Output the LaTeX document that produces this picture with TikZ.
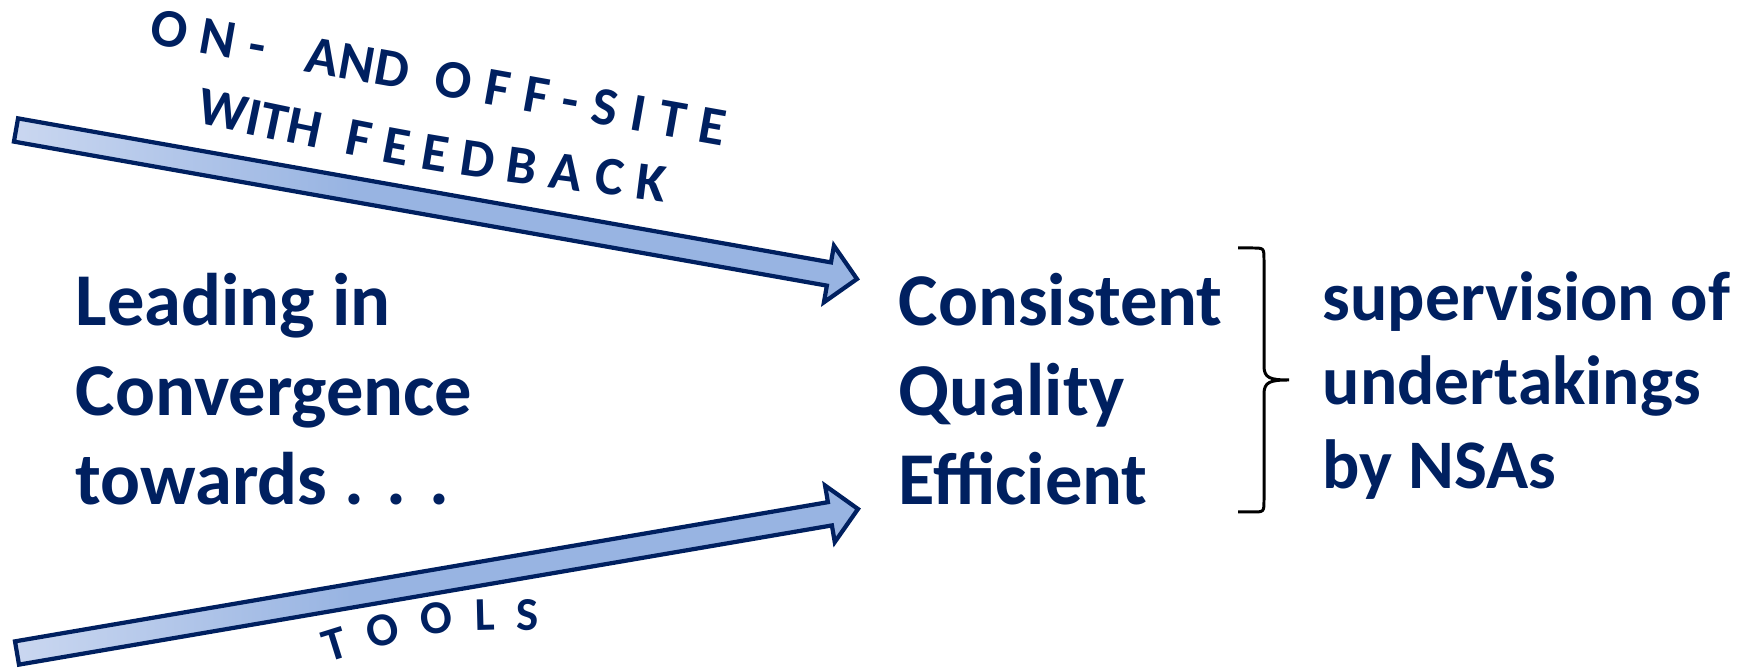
\documentclass[tikz,border=0pt]{standalone}
\usepackage{fontspec}
\setmainfont{Carlito}
\usetikzlibrary{calc,positioning,decorations.text}
\definecolor{navy}{RGB}{0,32,96}
\definecolor{arrlight}{RGB}{202,215,240}
\definecolor{arrmid}{RGB}{152,180,226}
\pgfdeclarehorizontalshading{arrowshade}{100bp}{color(0bp)=(arrlight); color(25bp)=(arrlight); color(45bp)=(arrmid); color(100bp)=(arrmid)}
\newcommand{\wafont}{\fontsize{15.4pt}{18pt}\selectfont\bfseries}
\newcommand{\tlfont}{\fontsize{13.4pt}{16pt}\selectfont\bfseries}
\newcommand{\arrsw}{0.118cm}
\newcommand{\arrhw}{0.287cm}
\newcommand{\arrhl}{0.285cm}
% block arrow from a tail coordinate to a tip coordinate
\newcommand{\bigarrow}[2]{%
  \coordinate (#1 base) at ($(#2)!\arrhl!(#1)$);
  \draw[blockarrow] ($(#1)!\arrsw!90:(#2)$) -- ($(#1 base)!\arrsw!90:(#2)$)
    -- ($(#1 base)!\arrhw!90:(#2)$) -- (#2) -- ($(#1 base)!\arrhw!-90:(#2)$)
    -- ($(#1 base)!\arrsw!-90:(#2)$) -- ($(#1)!\arrsw!-90:(#2)$) -- cycle;}
\tikzset{
    %Define style for the large texts
    bigtext/.style={
           font=\fontsize{21.2pt}{25.6pt}\selectfont\bfseries,
           text=navy,
           align=left,
           inner sep=0pt,
           anchor=base west,
           },
    % Define style for the block arrows
    blockarrow/.style={
           draw=navy,
           line width=1.2pt,
           line join=miter,
           shade,
           shading=arrowshade,
           },
    bracket/.style={
           line width=0.85pt,
           },
    wordart/.style={
           decorate,
           decoration={text along path, text color=navy, text align={fit to path}},
           },
}
\begin{document}
\begin{tikzpicture}
\useasboundingbox (0,0) rectangle (17.54,6.70);
% arrows
\coordinate (fb tail) at (0.16,5.40);
\coordinate (fb tip) at (8.57,3.91);
\coordinate (tl tail) at (0.17,0.17);
\coordinate (tl tip) at (8.58,1.61);
\bigarrow{fb tail}{fb tip}
\bigarrow{tl tail}{tl tip}
% text blocks (anchored at the last line)
\node[bigtext] (lead) at (0.75,1.65) {Leading in\\Convergence\\towards . . .};
\node[bigtext] (cons) at (8.98,1.65) {Consistent\\Quality\\Efficient};
\node[bigtext, font=\fontsize{19.8pt}{23.9pt}\selectfont\bfseries] (sup) at (13.22,1.81) {supervision of\\undertakings\\by NSAs};
% brace
\coordinate (br top) at (12.38,4.22);
\coordinate (br tip) at (12.89,2.90);
\coordinate (br bot) at (12.38,1.58);
\draw[bracket] (br top) -- (12.52,4.22) .. controls (12.64,4.22) .. (12.64,4.10) -- (12.64,3.04)
    .. controls (12.64,2.92) and (12.70,2.90) .. (br tip)
    .. controls (12.70,2.90) and (12.64,2.88) .. (12.64,2.76) -- (12.64,1.70)
    .. controls (12.64,1.58) .. (12.52,1.58) -- (br bot);
% arched labels
\coordinate (on start) at (1.48,6.26);
\coordinate (on end) at (7.23,5.24);
\coordinate (with start) at (1.95,5.47);
\coordinate (with end) at (6.64,4.68);
\coordinate (tools start) at (3.29,0.07);
\coordinate (tools end) at (5.34,0.40);
\path[wordart, decoration={text={|\wafont|O N -{\ }{\ }{\ }AND{\ }{\ }O F F - S I T E}}] (on start) -- (on end);
\path[wordart, decoration={text={|\wafont|WITH{\ }{\ }F E E D B A C K}}] (with start) .. controls (4.28,4.98) .. (with end);
\path[wordart, decoration={text={|\tlfont|T{\ }{\ }O{\ }{\ }O{\ }{\ }L{\ }{\ }S}}] (tools start) .. controls (4.31,0.39) .. (tools end);
\end{tikzpicture}
\end{document}
